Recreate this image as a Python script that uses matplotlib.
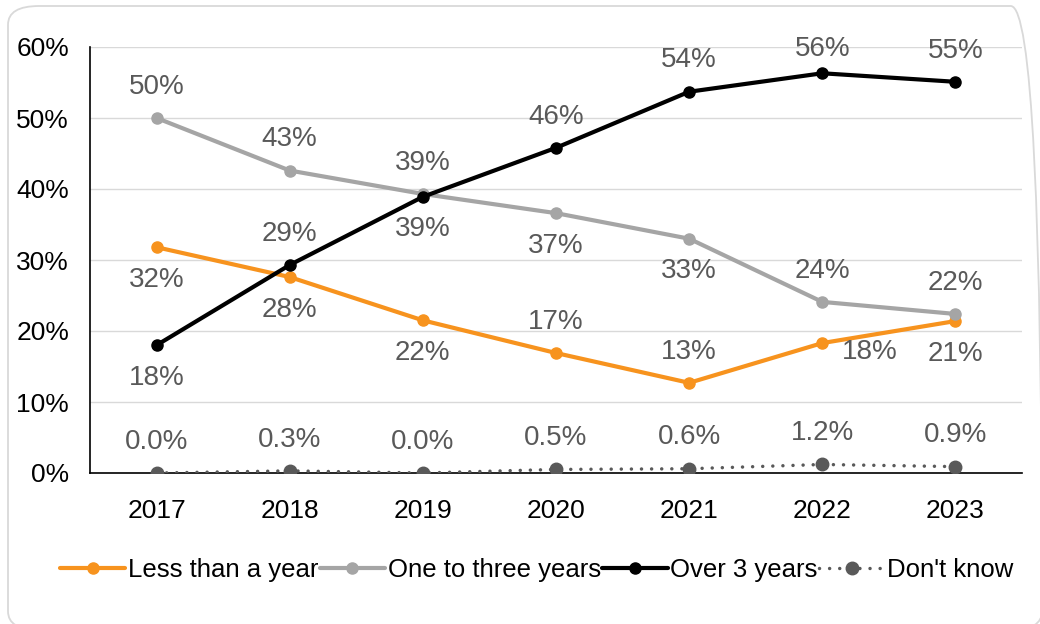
import matplotlib
matplotlib.use("Agg")
import matplotlib.pyplot as plt
from matplotlib.patches import FancyBboxPatch

# data (percent)
years = ["2017", "2018", "2019", "2020", "2021", "2022", "2023"]
less_than_year = [31.8, 27.6, 21.5, 16.9, 12.7, 18.3, 21.4]
one_to_three = [50.0, 42.6, 39.3, 36.6, 33.0, 24.1, 22.4]
over_three = [18.0, 29.3, 38.9, 45.8, 53.7, 56.3, 55.1]
dont_know = [0.0, 0.3, 0.0, 0.5, 0.6, 1.2, 0.9]

# label placement per point: a = above, b = below, r = right
less_pos = ["b", "b", "b", "a", "a", "r", "b"]
one_pos = ["a", "a", "a", "b", "b", "a", "a"]
over_pos = ["b", "a", "b", "a", "a", "a", "a"]
dk_pos = ["a"] * 7

ORANGE = "#F7931E"
GREY = "#A5A5A5"
BLACK = "#000000"
DARK = "#595959"
GRID = "#D9D9D9"

plt.rcParams.update({
    "font.family": ["Liberation Sans", "DejaVu Sans"],
    "font.size": 19,
})

fig = plt.figure(figsize=(10.4, 6.24), dpi=100)
ax = fig.add_axes([90 / 1040, 1 - 473 / 624, 932 / 1040, 426 / 624])

# rounded chart-area border (right and bottom run off the canvas)
fig.patches.append(FancyBboxPatch((8 / 1040, -6 / 624), 1034 / 1040, 624 / 624,
                                  boxstyle="round,pad=0,rounding_size=0.03",
                                  transform=fig.transFigure, fc="none",
                                  ec=GRID, lw=1.3, zorder=0))

x = list(range(len(years)))
YMAX = 60
# label offsets in data units / x offset in category units
DY = {"a": 4.4, "b": -4.6, "r": -1.2}
DX = {"a": 0, "b": 0, "r": 0.36}


def series(vals, pos, color, label, fmt, dotted=False, ms=8, z=3):
    if dotted:
        ax.plot(x, vals, color=color, lw=2.5, marker="o", ms=ms, label=label,
                zorder=z, linestyle=(0, (0.01, 2.9)), dash_capstyle="round")
    else:
        ax.plot(x, vals, color=color, lw=3.0, marker="o", ms=ms, label=label,
                zorder=z, solid_capstyle="round")
    for xi, v, p in zip(x, vals, pos):
        ty = min(v + DY[p], YMAX - 0.35)   # Excel keeps labels inside the plot
        ax.text(xi + DX[p], ty, fmt.format(v), ha="center", va="center",
                color=DARK, fontsize=20, zorder=7)


series(less_than_year, less_pos, ORANGE, "Less than a year", "{:.0f}%", z=3)
series(one_to_three, one_pos, GREY, "One to three years", "{:.0f}%", z=4)
series(over_three, over_pos, BLACK, "Over 3 years", "{:.0f}%", z=5)
series(dont_know, dk_pos, DARK, "Don't know", "{:.1f}%", dotted=True, ms=9, z=6)

ax.set_xlim(-0.5, len(years) - 0.5)
ax.set_ylim(0, YMAX)
ax.set_xticks(x)
ax.set_xticklabels(years)
ax.set_yticks(range(0, 61, 10))
ax.set_yticklabels([f"{t}%" for t in range(0, 61, 10)])
ax.tick_params(length=0, labelsize=19, colors="black")
ax.tick_params(axis="x", pad=19)
ax.tick_params(axis="y", pad=15)
ax.grid(axis="y", color=GRID, lw=1)
ax.set_axisbelow(True)
for s in ("top", "right"):
    ax.spines[s].set_visible(False)
for s in ("left", "bottom"):
    ax.spines[s].set_color("black")
    ax.spines[s].set_linewidth(1.2)
ax.spines["bottom"].set_zorder(2)

fig.legend(loc="center", bbox_to_anchor=(0.516, 0.087), ncol=4, frameon=False,
           fontsize=18.5, handlelength=2.55, handletextpad=0.1, columnspacing=0.05,
           borderaxespad=0)

fig.savefig("out.png", dpi=100, facecolor="white")
